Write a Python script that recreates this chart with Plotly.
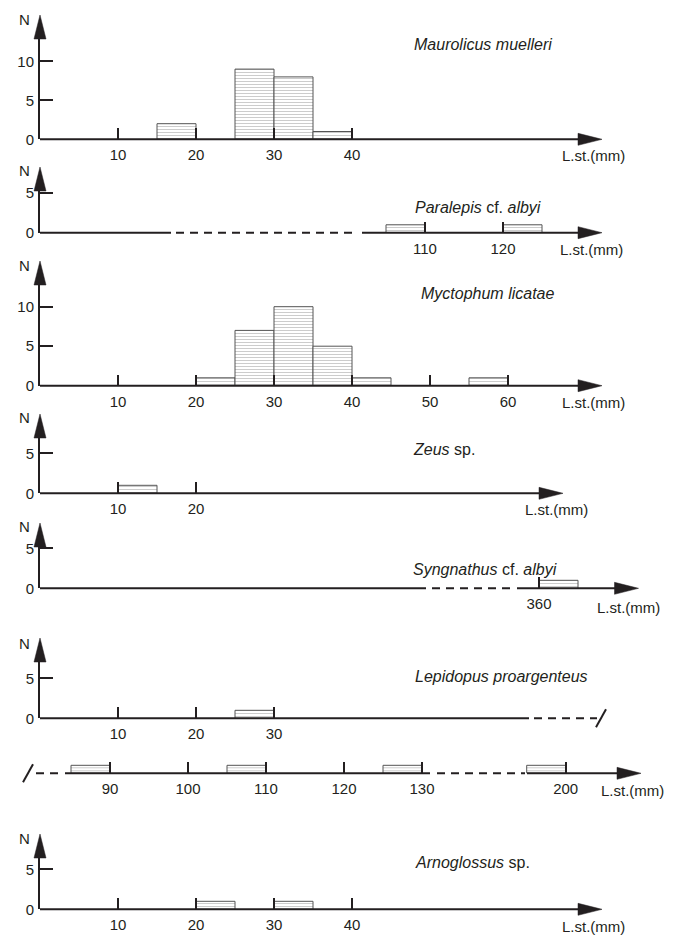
import plotly.graph_objects as go

# ---------------- data (bin left edge in mm, count N) ----------------
maurolicus_bins = [15, 25, 30, 35]
maurolicus_n = [2, 9, 8, 1]
paralepis_bins = [105, 120]
paralepis_n = [1, 1]
myctophum_bins = [20, 25, 30, 35, 40, 55]
myctophum_n = [1, 7, 10, 5, 1, 1]
zeus_bins = [10]
zeus_n = [1]
syngnathus_bins = [360]
syngnathus_n = [1]
lepidopus_bins_a = [25]
lepidopus_n_a = [1]
lepidopus_bins_b = [85, 105, 125]
lepidopus_n_b = [1, 1, 1]
lepidopus_bins_c = [195]
lepidopus_n_c = [1]
arnoglossus_bins = [20, 30]
arnoglossus_n = [1, 1]
BIN = 5

ticks_maur = [10, 20, 30, 40]
ticks_para = [110, 120]
ticks_myct = [10, 20, 30, 40, 50, 60]
ticks_zeus = [10, 20]
ticks_syng = [360]
ticks_lep_a = [10, 20, 30]
ticks_lep_b = [90, 100, 110, 120, 130]
ticks_lep_c = [200]
ticks_arno = [10, 20, 30, 40]

# ---------------- layout geometry (pixels) ----------------
W, H = 678, 935
X0 = 40          # pixel position of the vertical axes
KX = 7.8         # px per mm
INK = "#231f20"
FONT = "Liberation Sans"
FS = 15
TS = 16


def px(x):
    return x / W


def py(y):
    return 1 - y / H


fig = go.Figure()
layout = dict(
    width=W, height=H, margin=dict(l=0, r=0, t=0, b=0),
    paper_bgcolor="white", plot_bgcolor="white", showlegend=False,
    font=dict(family=FONT, size=FS, color=INK),
)
shapes = []
annotations = []
xcount = [0]
ycount = [0]


def new_x(shift, tickvals, yname):
    xcount[0] += 1
    n = xcount[0]
    name = "xaxis" if n == 1 else f"xaxis{n}"
    layout[name] = dict(
        domain=[px(X0), 1], range=[shift, shift + (W - X0) / KX],
        anchor=yname, showgrid=False, zeroline=False, showline=False,
        ticks="inside" if tickvals else "", ticklen=11, tickwidth=1.5, tickcolor=INK,
        tickvals=tickvals, showticklabels=bool(tickvals), ticklabelstandoff=5,
        tickfont=dict(family=FONT, size=FS, color=INK), automargin=False, fixedrange=True,
    )
    return "x" if n == 1 else f"x{n}"


def new_y(base, ky, tip, tickvals, visible=True):
    ycount[0] += 1
    n = ycount[0]
    name = "yaxis" if n == 1 else f"yaxis{n}"
    top = tip + 14
    layout[name] = dict(
        domain=[py(base), py(top)], range=[0, (base - top) / ky],
        anchor=xname_for_y[n], showgrid=False, zeroline=False,
        showline=visible, linewidth=2, linecolor=INK,
        ticks="inside" if visible else "", ticklen=13, tickwidth=1.5, tickcolor=INK,
        tickvals=tickvals, showticklabels=visible, ticklabelstandoff=1,
        tickfont=dict(family=FONT, size=FS, color=INK), automargin=False, fixedrange=True,
        visible=visible,
    )
    return "y" if n == 1 else f"y{n}"


def bars(xname, yname, bins, counts):
    fig.add_trace(go.Bar(
        x=[b + BIN / 2 for b in bins], y=counts, width=BIN,
        xaxis=xname, yaxis=yname,
        marker=dict(color="white",
                    line=dict(color="#555555", width=1),
                    pattern=dict(shape="-", fgcolor="#9a9a9a", bgcolor="white", size=3, solidity=0.34)),
        hoverinfo="skip",
    ))


def hline(x1, x2, y, dash="solid"):
    shapes.append(dict(type="line", xref="paper", yref="paper", x0=px(x1), x1=px(x2),
                       y0=py(y), y1=py(y), line=dict(color=INK, width=2, dash=dash)))


def arrow_right(xtip, y):
    shapes.append(dict(type="path", xref="paper", yref="paper",
                       path=f"M {px(xtip)},{py(y)} L {px(xtip-24)},{py(y-6)} L {px(xtip-24)},{py(y+6)} Z",
                       fillcolor=INK, line=dict(color=INK, width=0.5)))


def arrow_up(ytip):
    shapes.append(dict(type="path", xref="paper", yref="paper",
                       path=f"M {px(X0)},{py(ytip)} L {px(X0-6)},{py(ytip+24)} L {px(X0+6)},{py(ytip+24)} Z",
                       fillcolor=INK, line=dict(color=INK, width=0.5)))


def slash(xc, yc):
    shapes.append(dict(type="line", xref="paper", yref="paper", x0=px(xc - 5), x1=px(xc + 5),
                       y0=py(yc + 9), y1=py(yc - 9), line=dict(color=INK, width=2)))


def text(x, y, s, size=FS):
    annotations.append(dict(xref="paper", yref="paper", x=px(x), y=py(y), text=s, showarrow=False,
                            xanchor="center", yanchor="middle", font=dict(family=FONT, size=size, color=INK)))


DASH = "8px,6px"

# x axis anchor used by each y axis
xname_for_y = {1: "x", 2: "x2", 3: "x3", 4: "x4", 5: "x5", 6: "x6", 7: "x7", 8: "x9"}

# ---- panel 1 : Maurolicus muelleri ----
B = 139.3
yn = new_y(B, 7.8, 15, [0, 5, 10])
xn = new_x(0, ticks_maur, yn)
bars(xn, yn, maurolicus_bins, maurolicus_n)
hline(X0, 580, B); arrow_right(602, B); arrow_up(15)
text(24, 20, "N"); text(483, 45, "<i>Maurolicus muelleri</i>", TS); text(593, 155, "L.st.(mm)")

# ---- panel 2 : Paralepis cf. albyi ----
B = 232.7
yn = new_y(B, 7.9, 167, [0, 5])
xn = new_x(110 - (425 - X0) / KX, ticks_para, yn)
bars(xn, yn, paralepis_bins, paralepis_n)
hline(X0, 171, B); hline(176, 358, B, DASH); hline(362, 580, B); arrow_right(602, B); arrow_up(167)
text(24, 171, "N"); text(478, 207, "<i>Paralepis</i> cf. <i>albyi</i>", TS); text(591, 249, "L.st.(mm)")

# ---- panel 3 : Myctophum licatae ----
B = 385.7
yn = new_y(B, 7.9, 261, [0, 5, 10])
xn = new_x(0, ticks_myct, yn)
bars(xn, yn, myctophum_bins, myctophum_n)
hline(X0, 580, B); arrow_right(602, B); arrow_up(261)
text(24, 265, "N"); text(487, 293, "<i>Myctophum licatae</i>", TS); text(593, 402, "L.st.(mm)")

# ---- panel 4 : Zeus sp. ----
B = 493.3
yn = new_y(B, 8.0, 414, [0, 5])
xn = new_x(0, ticks_zeus, yn)
bars(xn, yn, zeus_bins, zeus_n)
hline(X0, 541, B); arrow_right(563, B); arrow_up(414)
text(24, 418, "N"); text(444, 450, "<i>Zeus</i> sp.", TS); text(556, 510, "L.st.(mm)")

# ---- panel 5 : Syngnathus cf. albyi ----
B = 588.3
yn = new_y(B, 8.0, 523, [0, 5])
xn = new_x(360 - (539 - X0) / KX, ticks_syng, yn)
bars(xn, yn, syngnathus_bins, syngnathus_n)
hline(X0, 426, B); hline(432, 514, B, DASH); hline(517, 616, B); arrow_right(638.5, B); arrow_up(523)
text(24, 526, "N"); text(485, 569, "<i>Syngnathus</i> cf. <i>albyi</i>", TS); text(628, 607, "L.st.(mm)")

# ---- panel 6 : Lepidopus proargenteus (upper line) ----
B = 718.3
yn = new_y(B, 8.0, 638, [0, 5])
xn = new_x(0, ticks_lep_a, yn)
bars(xn, yn, lepidopus_bins_a, lepidopus_n_a)
hline(X0, 529, B); hline(534, 597, B, DASH); slash(601, B); arrow_up(638)
text(24, 643, "N"); text(501, 676, "<i>Lepidopus proargenteus</i>", TS)

# ---- panel 6 : lower continuation line ----
B = 773.3
yn = new_y(B, 8.0, B - 30, [], visible=False)
xa = new_x(90 - (110 - X0) / KX, ticks_lep_b, yn)
xb = new_x(200 - (565.7 - X0) / KX, ticks_lep_c, yn)
layout["xaxis8"]["overlaying"] = "x7"
bars(xa, yn, lepidopus_bins_b, lepidopus_n_b)
bars(xb, yn, lepidopus_bins_c, lepidopus_n_c)
slash(28, B); hline(36, 60, B, DASH); hline(65, 430, B); hline(437, 525, B, DASH); hline(527, 619, B)
arrow_right(641, B)
text(632, 790, "L.st.(mm)")

# ---- panel 7 : Arnoglossus sp. ----
B = 909.3
yn = new_y(B, 8.0, 834, [0, 5])
xn = new_x(0, ticks_arno, yn)
bars(xn, yn, arnoglossus_bins, arnoglossus_n)
hline(X0, 580, B); arrow_right(602, B); arrow_up(834)
text(24, 838, "N"); text(472, 862, "<i>Arnoglossus</i> sp.", TS); text(593, 926, "L.st.(mm)")

layout["shapes"] = shapes
layout["annotations"] = annotations
fig.update_layout(**layout)
fig.write_html("out.html",
               config={"displayModeBar": False},
               post_script="document.body.style.margin='0px';document.body.style.padding='0px';")
